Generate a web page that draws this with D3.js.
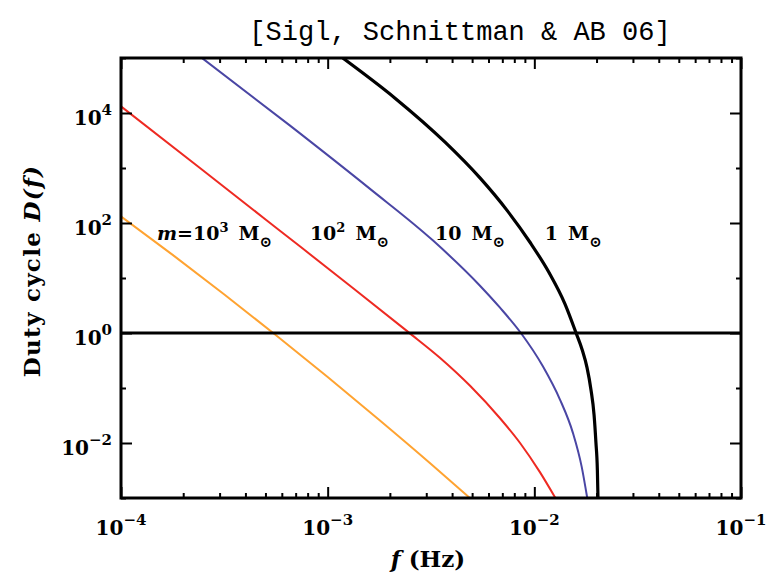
<!DOCTYPE html>
<html>
<head>
<meta charset="utf-8">
<script src="https://cdn.jsdelivr.net/npm/d3@7/dist/d3.min.js"></script>
<style>
  html, body { margin: 0; padding: 0; background: #fff; }
  svg { display: block; }
  .tick line { stroke: #000; stroke-width: 2; }
  .lbl { font-family: "DejaVu Serif", serif; font-weight: bold; fill: #000; }
</style>
</head>
<body>
<script>
// Frequency axis decades and duty-cycle axis decades (log10 exponents)
const xTickExp = [-4, -3, -2, -1];
const yTickExp = [-2, 0, 2, 4];
const yMinorExp = [-3, -1, 1, 3, 5];

// Duty cycle D(f) curves for each compact-object mass (log10 f [Hz], log10 D)
const massLabels = ["10^3", "10^2", "10", "1"];

const logF_m1000 = [-4.0, -3.75, -3.5, -3.25, -3.0, -2.75, -2.5, -2.312];
const logD_m1000 = [2.12, 1.42, 0.70, -0.04, -0.80, -1.58, -2.38, -3.0];

const logF_m100 = [-4.0, -3.618, -3.231, -2.892, -2.611, -2.457, -2.311, -2.166, -2.069, -1.973, -1.895];
const logD_m100 = [4.12, 3.00, 1.86, 0.86, 0.02, -0.45, -0.96, -1.55, -2.00, -2.53, -3.02];

const logF_m10 = [-3.608, -3.182, -2.795, -2.490, -2.263, -2.166, -2.065, -1.958, -1.876, -1.813, -1.771, -1.744];
const logD_m10 = [5.0, 3.77, 2.62, 1.68, 0.86, 0.46, 0.0, -0.61, -1.21, -1.82, -2.43, -3.0];

const logF_m1 = [-2.927, -2.674, -2.432, -2.263, -2.132, -2.021, -1.929, -1.852, -1.798, -1.769, -1.745, -1.726, -1.711, -1.702, -1.695, -1.692];
const logD_m1 = [5.0, 4.27, 3.47, 2.82, 2.23, 1.65, 1.10, 0.53, 0.0, -0.30, -0.63, -1.03, -1.49, -1.99, -2.49, -3.0];

// Reference level D = 1
const unityD = 1;

// Where each mass label sits (data coordinates)
const labelLogF = [-3.826, -3.086, -2.481, -1.949];
const labelLogD = [1.70, 1.70, 1.70, 1.70];

const W = 770, H = 576;
const margin = { left: 121, right: 29, top: 58, bottom: 78 };
const x0 = margin.left, x1 = W - margin.right, y0 = margin.top, y1 = H - margin.bottom;

const x = d3.scaleLog().domain([1e-4, 1e-1]).range([x0, x1]);
const y = d3.scaleLog().domain([1e-3, 1e5]).range([y1, y0]);

const svg = d3.select("body").append("svg").attr("width", W).attr("height", H);

svg.append("defs").append("clipPath").attr("id", "plotclip")
  .append("rect").attr("x", x0).attr("y", y0).attr("width", x1 - x0).attr("height", y1 - y0);

const series = [
  { f: logF_m1000, d: logD_m1000, color: "#ffa331", width: 2 },
  { f: logF_m100,  d: logD_m100,  color: "#ee2a22", width: 2 },
  { f: logF_m10,   d: logD_m10,   color: "#4a46a4", width: 2 },
  { f: logF_m1,    d: logD_m1,    color: "#000000", width: 3.2 }
];

const line = d3.line()
  .x(p => x(Math.pow(10, p[0])))
  .y(p => y(Math.pow(10, p[1])))
  .curve(d3.curveMonotoneX);

const plot = svg.append("g").attr("clip-path", "url(#plotclip)");

series.forEach(s => {
  const pts = s.f.map((v, i) => [v, s.d[i]]);
  plot.append("path").datum(pts)
    .attr("d", line)
    .attr("fill", "none")
    .attr("stroke", s.color)
    .attr("stroke-width", s.width)
    .attr("stroke-linejoin", "round");
});

// D = 1 line
plot.append("line")
  .attr("x1", x0).attr("x2", x1)
  .attr("y1", y(unityD)).attr("y2", y(unityD))
  .attr("stroke", "#000").attr("stroke-width", 3);

// Ticks on all four sides, pointing inward
const xMajor = xTickExp.map(e => Math.pow(10, e));
const xMinor = [];
for (let e = -4; e < -1; e++) for (let k = 2; k <= 9; k++) xMinor.push(k * Math.pow(10, e));
const yMajor = yTickExp.map(e => Math.pow(10, e));
const yMinor = yMinorExp.map(e => Math.pow(10, e));

function addAxis(axisFn, scale, values, size, tx, ty) {
  const g = svg.append("g").attr("transform", `translate(${tx},${ty})`)
    .call(axisFn(scale).tickValues(values).tickSizeInner(-size).tickSizeOuter(0).tickFormat(""));
  g.select(".domain").remove();
  return g;
}
addAxis(d3.axisBottom, x, xMajor, 11, 0, y1);
addAxis(d3.axisBottom, x, xMinor, 5, 0, y1);
addAxis(d3.axisTop, x, xMajor, 11, 0, y0);
addAxis(d3.axisTop, x, xMinor, 5, 0, y0);
addAxis(d3.axisLeft, y, yMajor, 11, x0, 0);
addAxis(d3.axisLeft, y, yMinor, 5, x0, 0);
addAxis(d3.axisRight, y, yMajor, 11, x1, 0);
addAxis(d3.axisRight, y, yMinor, 5, x1, 0);

// Frame
svg.append("rect")
  .attr("x", x0).attr("y", y0).attr("width", x1 - x0).attr("height", y1 - y0)
  .attr("fill", "none").attr("stroke", "#000").attr("stroke-width", 3);

// Power-of-ten label helper
function powLabel(sel, exp, size) {
  sel.append("tspan").text("10");
  sel.append("tspan").text(String(exp).replace("-", "\u2212"))
    .attr("font-size", size * 0.75).attr("dy", -size * 0.5);
}

// x tick labels
xTickExp.forEach(e => {
  const t = svg.append("text").attr("class", "lbl")
    .attr("x", x(Math.pow(10, e))).attr("y", y1 + 37)
    .attr("text-anchor", "middle").attr("font-size", 20);
  powLabel(t, e, 20);
});

// y tick labels
yTickExp.forEach(e => {
  const t = svg.append("text").attr("class", "lbl")
    .attr("x", x0 - 9).attr("y", y(Math.pow(10, e)) + 12)
    .attr("text-anchor", "end").attr("font-size", 20);
  powLabel(t, e, 20);
});

// Axis titles
const xt = svg.append("text").attr("class", "lbl")
  .attr("x", 428).attr("y", 567).attr("text-anchor", "middle").attr("font-size", 23);
xt.append("tspan").attr("font-style", "italic").text("f");
xt.append("tspan").text(" (Hz)");

const yt = svg.append("text").attr("class", "lbl")
  .attr("transform", "translate(40,271) rotate(-90)")
  .attr("text-anchor", "middle").attr("font-size", 23)
  .attr("letter-spacing", 1.3);
yt.append("tspan").text("Duty cycle ");
yt.append("tspan").attr("font-style", "italic").text("D(f)");

// Title
svg.append("text")
  .attr("x", 460).attr("y", 40).attr("text-anchor", "middle")
  .attr("font-family", "Liberation Mono, monospace").attr("font-size", 27)
  .attr("fill", "#000")
  .text("[Sigl, Schnittman & AB 06]");

// Mass labels
massLabels.forEach((m, i) => {
  const t = svg.append("text").attr("class", "lbl")
    .attr("x", x(Math.pow(10, labelLogF[i]))).attr("y", y(Math.pow(10, labelLogD[i])))
    .attr("font-size", 19);
  if (i === 0) {
    t.append("tspan").attr("font-style", "italic").text("m");
    t.append("tspan").text("=");
  }
  const parts = m.split("^");
  t.append("tspan").text(parts[0]);
  if (parts[1]) {
    t.append("tspan").text(parts[1]).attr("font-size", 13).attr("dy", -8);
    t.append("tspan").text("M").attr("dx", 10).attr("dy", 8);
  } else {
    t.append("tspan").text("M").attr("dx", 10);
  }
  t.append("tspan").text("\u2299").attr("font-size", 15).attr("dy", 7).attr("dx", 0);
});
</script>
</body>
</html>
